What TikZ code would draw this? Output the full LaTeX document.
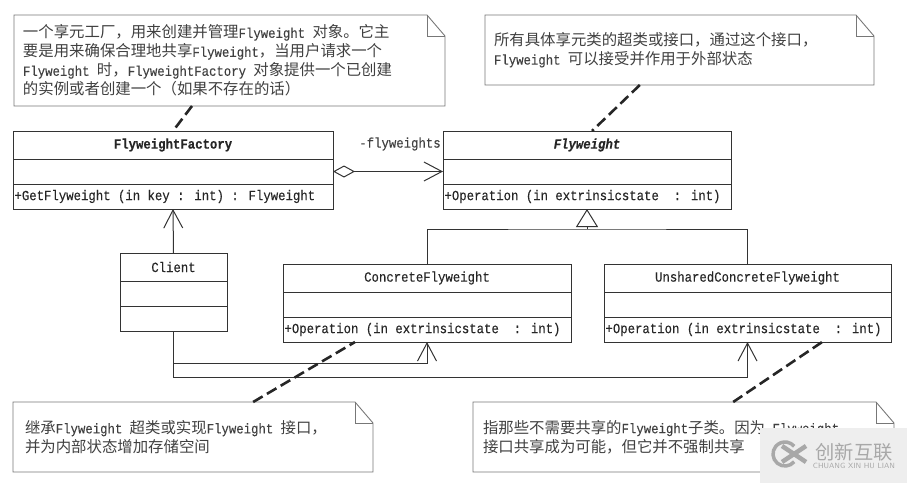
\documentclass[tikz,border=0pt]{standalone}
\usepackage{fontspec}
\usepackage{xcolor}
\usetikzlibrary{arrows.meta, calc}
\setmainfont[FakeStretch=0.88, FakeBold=0.2]{Liberation Mono}
\newfontfamily\cjk[Scale=1.1]{Noto Sans CJK SC}
\newcommand{\zh}[1]{{\cjk #1}}
\definecolor{umlink}{HTML}{333333}
\definecolor{notegray}{HTML}{777777}
\definecolor{marktext}{HTML}{A8A8A8}
\definecolor{markfill}{HTML}{EEEEEE}

\begin{document}
\begin{tikzpicture}[
    x=1pt, y=-1pt,
    classcell/.style={rectangle, draw=umlink, line width=1pt, inner sep=0pt, outer sep=0pt, anchor=north west, minimum width=#1, text=black!85},
    notebox/.style 2 args={rectangle, inner xsep=9pt, inner ysep=0pt, outer sep=0pt, anchor=north west, minimum width=#1, minimum height=#2, text width=#1-18pt, align=flush left, text=black!75, font=\fontsize{14}{19}\selectfont},
    link/.style={draw=umlink, line width=1pt},
    openarrow/.style={link, -{Straight Barb[length=18pt, width=19pt]}},
    notelink/.style={draw=black!85, line width=2.6pt, dash pattern=on 11pt off 5pt},
]
\useasboundingbox (0,0) rectangle (907,483);

% classes
\foreach \name/\x/\y/\w/\title/\op in {
    factory/13/131/320/{\bfseries FlyweightFactory}/{+GetFlyweight (in key : int) : Flyweight},
    flyweight/443/131/288/{\bfseries\itshape Flyweight}/{+Operation (in extrinsicstate~ : int)},
    client/120/253/107/{Client}/{},
    concrete/283/264/288/{ConcreteFlyweight}/{+Operation (in extrinsicstate~ : int)},
    unshared/604/264/287/{UnsharedConcreteFlyweight}/{+Operation (in extrinsicstate~ : int)}} {
    \node[classcell=\w pt, minimum height=28pt, font=\fontsize{14}{16}\selectfont] (\name-title) at (\x,\y) {\title};
    \node[classcell=\w pt, minimum height=25pt] (\name-attr) at (\name-title.south west) {};
    \node[classcell=\w pt, minimum height=25pt, font=\fontsize{14}{16}\selectfont, text width=\w pt-3pt, align=flush left] (\name-op) at (\name-attr.south west) {\op};
}

% relations
\node[font=\fontsize{14}{16}\selectfont, text=black!75] (flyLabel) at (400,144) {-flyweights};
\draw[openarrow, {Diamond[open, length=22pt, width=12pt]}-{Straight Barb[length=18pt, width=19pt]}] (factory-attr.east) -- (flyweight-attr.west);
\draw[openarrow] (client-title.north) -- (factory-op.south);
\draw[openarrow] (client-op.south) -- ++(0,32) -| (concrete-op.south);
\draw[openarrow] (client-op.south) -- ++(0,46) -| (unshared-op.south);

\coordinate (inherit) at (587,229);
\draw[link] (concrete-title.north) |- (inherit) -| (unshared-title.north);
\draw[link, -{Triangle[open, length=18pt, width=22pt]}] (inherit) -- (flyweight-op.south);

% notes
\node[notebox={431pt}{91pt}] (noteFactory) at (14,15) {\zh{一个享元工厂，用来创建并管理}Flyweight \zh{对象。它主}\\
    \zh{要是用来确保合理地共享}Flyweight\zh{，当用户请求一个}\\
    Flyweight \zh{时，}FlyweightFactory \zh{对象提供一个已创建}\\
    \zh{的实例或者创建一个（如果不存在的话）}};
\node[notebox={389pt}{70pt}] (noteFlyweight) at (485,15) {\zh{所有具体享元类的超类或接口，通过这个接口，}\\
    Flyweight \zh{可以接受并作用于外部状态}};
\node[notebox={360pt}{70pt}, inner xsep=12pt, text width=336pt] (noteConcrete) at (13,402) {\zh{继承}Flyweight \zh{超类或实现}Flyweight \zh{接口，}\\
    \zh{并为内部状态增加存储空间}};
\node[notebox={421pt}{70pt}, inner xsep=10pt, text width=401pt] (noteUnshared) at (473,402) {\zh{指那些不需要共享的}Flyweight\zh{子类。因为} Flyweight\\
    \zh{接口共享成为可能，但它并不强制共享}};

\foreach \n in {noteFactory, noteFlyweight, noteConcrete, noteUnshared} {
    \draw[notegray, line width=0.9pt] (\n.north west) -- ($(\n.north east)+(-18,0)$) -- ($(\n.north east)+(0,21)$) -- (\n.south east) -- (\n.south west) -- cycle;
    \draw[notegray, line width=0.9pt] ($(\n.north east)+(-18,0)$) -- ($(\n.north east)+(-18,21)$) -- ($(\n.north east)+(0,21)$);
}

\draw[notelink] ($(noteFactory.south west)!0.413!(noteFactory.south east)$) -- (factory-title.north);
\draw[notelink] ($(noteFlyweight.south west)!0.398!(noteFlyweight.south east)$) -- ($(flyweight-title.north)+(5,0)$);
\draw[notelink] ($(noteConcrete.north west)!0.667!(noteConcrete.north east)$) -- ($(concrete-op.south west)!0.25!(concrete-op.south east)$);
\draw[notelink] ($(noteUnshared.north west)!0.618!(noteUnshared.north east)$) -- ($(unshared-op.south west)!0.76!(unshared-op.south east)$);

% watermark
\node[rectangle, fill=markfill, anchor=north west, inner sep=0pt, minimum width=147pt, minimum height=55pt] (markBox) at (760,428) {};
\coordinate (markLogo) at (785,454);
\draw[marktext, line width=3.5pt] (markLogo) ++(9.2,7.7) arc[start angle=40, end angle=320, radius=12];
\draw[marktext, line width=4.5pt] (markLogo) ++(-3,-8) -- ++(24,16) (markLogo) ++(-3,8) -- ++(24,-16);
\node[text=marktext, inner sep=0pt] (markName) at (854,452) {\fontsize{17.5}{20}\selectfont\cjk 创新互联};
\node[text=marktext, inner sep=0pt, font=\sffamily\fontsize{7.5}{8}\selectfont] (markPinyin) at (854,466) {CHUANG XIN HU LIAN};
\end{tikzpicture}
\end{document}
